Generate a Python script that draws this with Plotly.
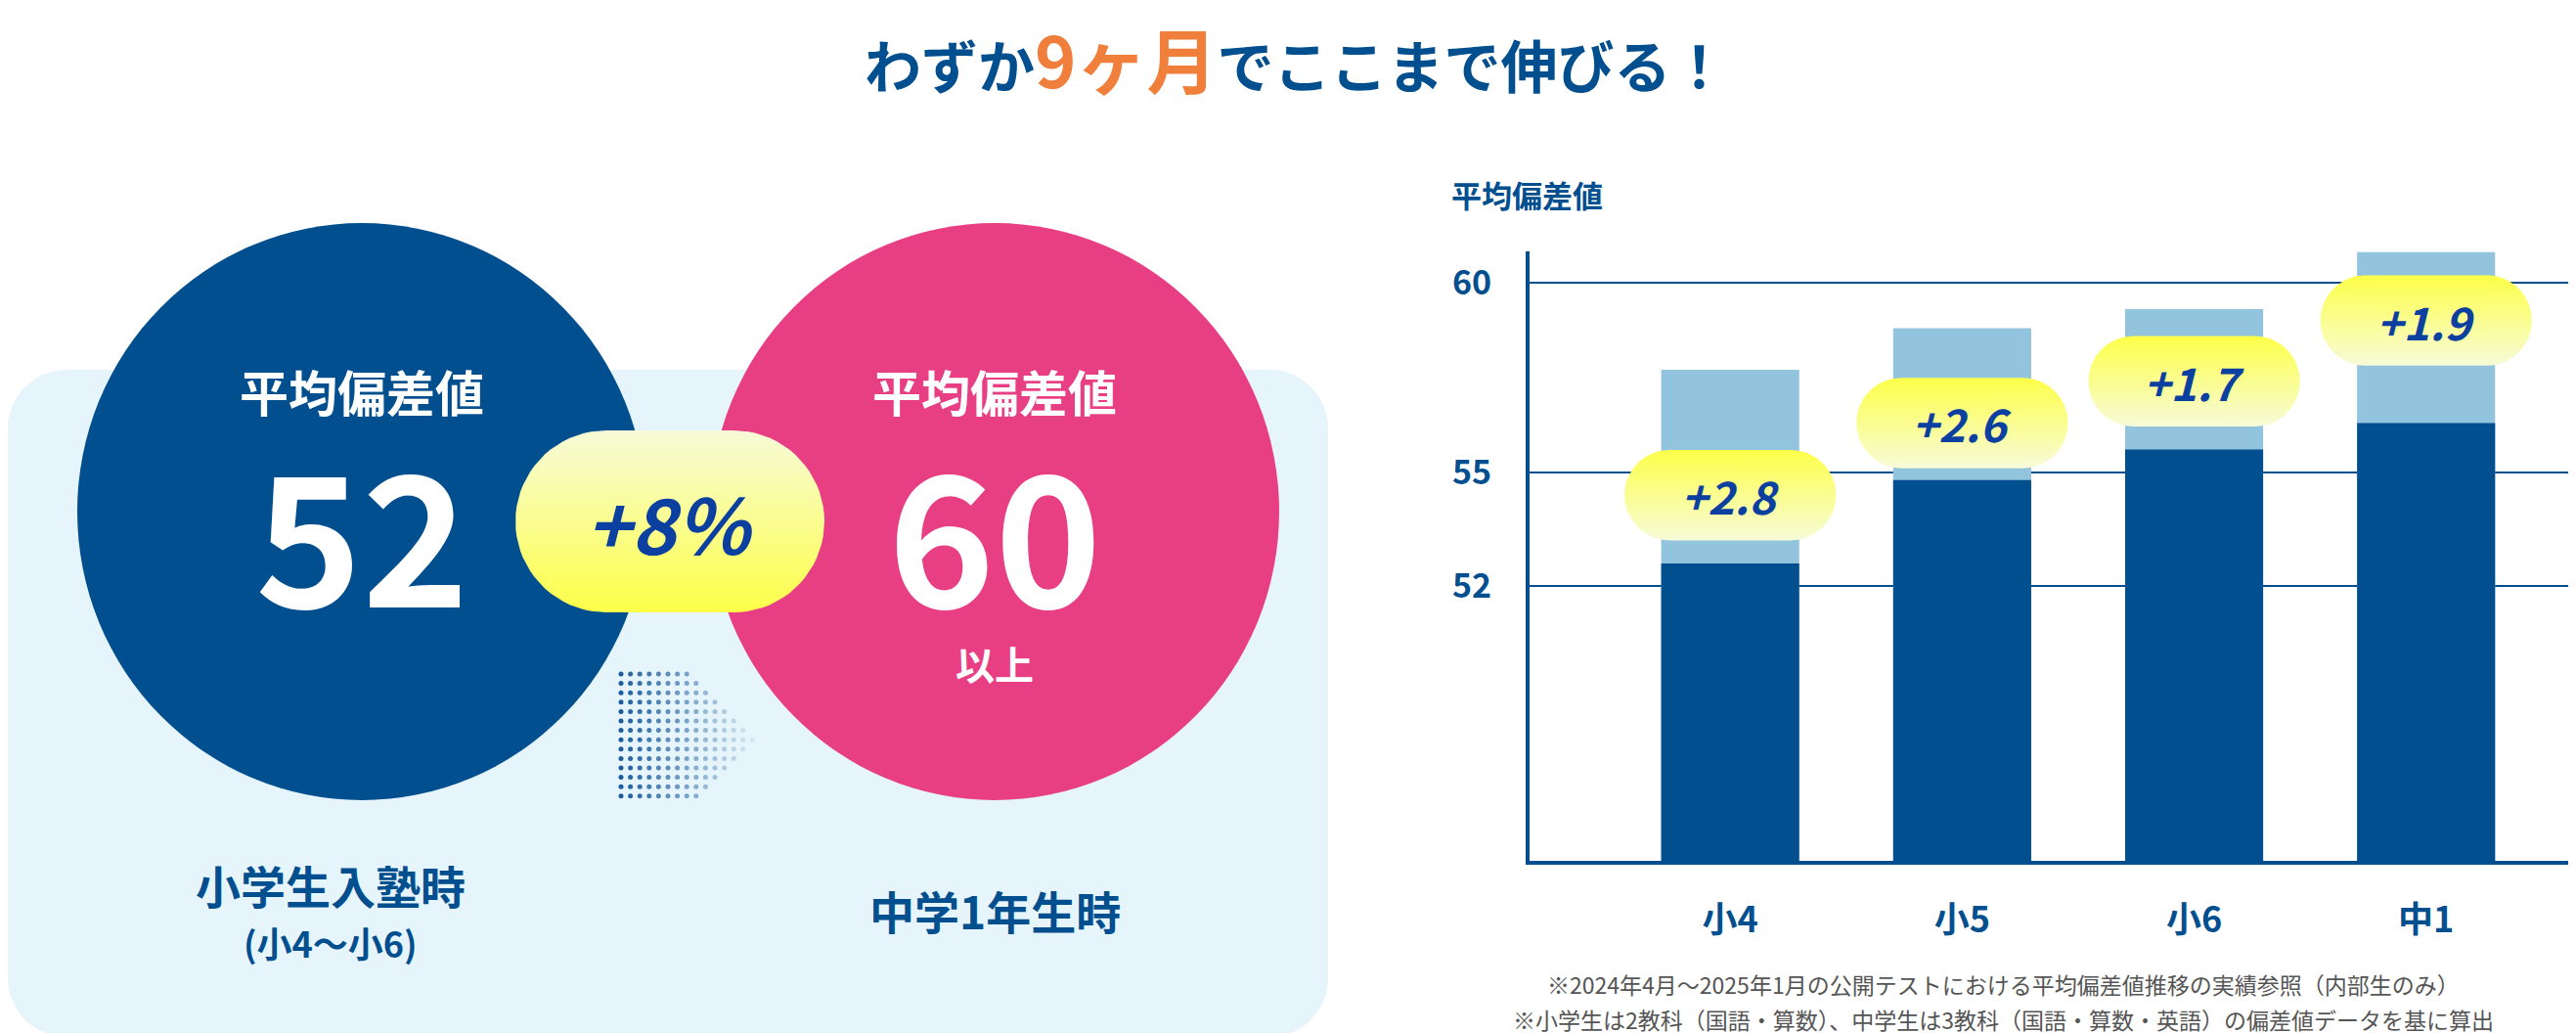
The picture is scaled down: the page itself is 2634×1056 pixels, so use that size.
import numpy as np
import plotly.graph_objects as go

W, H = 2634, 1056
FONT = "Noto Sans CJK JP"
NAVY = "#024f8f"
LIGHT = "#93c4dd"
PINK = "#e83e84"
TXT_BLUE = "#0b3fa0"

# chart data
grades = ["小4", "小5", "小6", "中1"]
start_vals = [52.6, 54.8, 55.6, 56.3]    # dark bars
top_vals = [57.7, 58.8, 59.3, 60.8]      # light bars
gains = ["+2.8", "+2.6", "+1.7", "+1.9"]
pill_y = [54.4, 56.3, 57.4, 59.0]
y_ticks = [52, 55, 60]

# left summary
before_val = "52"
after_val = "60"
rise = "+8%"

fig = go.Figure()

# light bars behind, dark bars on top
fig.add_trace(go.Bar(x=list(range(4)), y=top_vals, base=0, width=0.595,
                     marker=dict(color=LIGHT, line=dict(width=0)), hoverinfo="skip"))
fig.add_trace(go.Bar(x=list(range(4)), y=start_vals, base=0, width=0.595,
                     marker=dict(color=NAVY, line=dict(width=0)), hoverinfo="skip"))

gold = [[0, "#f7fbd8"], [1, "#fdff48"]]


def stadium(cx, cy, hw, hh, rx, ry, n=20):
    # rounded pill outline, corners as quarter ellipses
    pts = []
    for ccx, ccy, a0 in [(cx + hw - rx, cy + hh - ry, 0), (cx - hw + rx, cy + hh - ry, 90),
                         (cx - hw + rx, cy - hh + ry, 180), (cx + hw - rx, cy - hh + ry, 270)]:
        t = np.radians(np.linspace(a0, a0 + 90, n))
        pts += [(ccx + rx * np.cos(a), ccy + ry * np.sin(a)) for a in t]
    pts.append(pts[0])
    return [p[0] for p in pts], [p[1] for p in pts]


# chart pills (data units: 237 px per category, 38.8 px per point)
for i, (g, py) in enumerate(zip(gains, pill_y)):
    xs, ys = stadium(i, py, 0.456, 1.19, 0.194, 1.19)
    fig.add_trace(go.Scatter(x=xs, y=ys, mode="lines", fill="toself", line=dict(width=0),
                             fillgradient=dict(type="vertical", colorscale=gold),
                             hoverinfo="skip"))
    fig.add_annotation(x=i, y=py, text=f"<b><i>{g}</i></b>", showarrow=False,
                       font=dict(family=FONT, size=46, color=TXT_BLUE))

# pixel axis for the left infographic
ov = dict(xaxis="x2", yaxis="y2", hoverinfo="skip", showlegend=False)
# dotted arrow
dx, dy = [], []
dc = []
for cx in np.arange(627, 772, 9.6):
    half = 66 if cx < 700 else 66 * (770 - cx) / 70
    for cy in np.arange(747 - 66, 747 + 67, 9.6):
        if abs(cy - 747) <= half + 0.1:
            dx.append(cx); dy.append(cy); dc.append(cx)
fig.add_trace(go.Scatter(x=dx, y=dy, mode="markers",
                         marker=dict(size=5, color=dc, colorscale=[[0, "#1d5c9c"], [1, "#d5e9f3"]]), **ov))
# +8% pill
xs, ys = stadium(677, 525, 158, 93, 93, 93)
fig.add_trace(go.Scatter(x=xs, y=ys, mode="lines", fill="toself", line=dict(width=0),
                         fillgradient=dict(type="vertical", colorscale=[[0, "#fdff48"], [1, "#f7fbd8"]]), **ov))

# box + circles
bx, by = stadium(675, 711, 675, 341, 60, 60)
fig.add_shape(type="path", xref="x2", yref="y2", layer="below", line=dict(width=0), fillcolor="#e6f5fb",
              path="M " + " L ".join(f"{a},{b}" for a, b in zip(bx, by)) + " Z")
fig.add_shape(type="circle", xref="x2", yref="y2", layer="below", line=dict(width=0), fillcolor=NAVY,
              x0=362 - 291, x1=362 + 291, y0=515 - 295, y1=515 + 295)
fig.add_shape(type="circle", xref="x2", yref="y2", layer="below", line=dict(width=0), fillcolor=PINK,
              x0=1009 - 291, x1=1009 + 291, y0=515 - 295, y1=515 + 295)


def txt(x, y, s, size, color, **kw):
    fig.add_annotation(x=x, y=y, xref="x2", yref="y2", text=s, showarrow=False,
                       font=dict(family=FONT, size=size, color=color), **kw)


txt(362, 391, "<b>平均偏差値</b>", 50, "white")
txt(1009, 391, "<b>平均偏差値</b>", 50, "white")
txt(362, 532, f"<b>{before_val}</b>", 185, "white")
txt(1009, 532, f"<b>{after_val}</b>", 185, "white")
txt(677, 525, f"<b><i>{rise}</i></b>", 78, TXT_BLUE)
txt(1009, 670, "<b>以上</b>", 40, "white")
txt(330, 896, "<b>小学生入塾時</b>", 46, NAVY)
txt(330, 955, "<b>(小4〜小6)</b>", 36, NAVY)
txt(1009, 922, "<b>中学1年生時</b>", 46, NAVY)
txt(1317, 50, "<b>わずか<span style='color:#f07f3c;font-size:72px'>9ヶ月</span>でここまで伸びる！</b>", 58, NAVY)
txt(1553, 190, "<b>平均偏差値</b>", 31, NAVY)
txt(2040, 998, "※2024年4月〜2025年1月の公開テストにおける平均偏差値推移の実績参照（内部生のみ）", 23, "#555555")
txt(2040, 1034, "※小学生は2教科（国語・算数）、中学生は3教科（国語・算数・英語）の偏差値データを基に算出", 23, "#555555")

fig.update_layout(
    width=W, height=H, margin=dict(l=0, r=0, t=0, b=0),
    paper_bgcolor="white", plot_bgcolor="rgba(0,0,0,0)",
    barmode="overlay", showlegend=False,
    xaxis=dict(domain=[1556 / W, 1], range=[-0.865, 3.68], tickvals=list(range(4)), ticktext=grades,
               showgrid=False, zeroline=False, showline=True, linecolor=NAVY, linewidth=4,
               ticks="", ticklabelstandoff=26,
               tickfont=dict(family=FONT, size=36, color=NAVY, weight="bold")),
    yaxis=dict(domain=[1 - 872 / H, 1 - 249 / H], range=[44.77, 60.82], tickvals=y_ticks,
               showgrid=True, gridcolor=NAVY, gridwidth=2, zeroline=False,
               showline=True, linecolor=NAVY, linewidth=4, ticks="", ticklabelstandoff=28,
               tickfont=dict(family=FONT, size=34, color=NAVY, weight="bold")),
    xaxis2=dict(domain=[0, 1], range=[0, W], visible=False, anchor="y2"),
    yaxis2=dict(domain=[0, 1], range=[H, 0], visible=False, anchor="x2"),
)
fig.write_html("out.html")
